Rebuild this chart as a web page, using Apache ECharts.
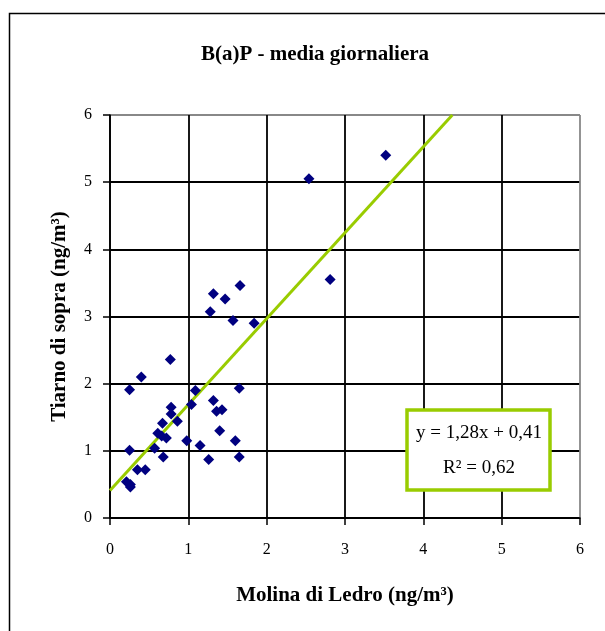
<!DOCTYPE html>
<html>
<head>
<meta charset="utf-8">
<script src="https://cdn.jsdelivr.net/npm/echarts@6/dist/echarts.min.js"></script>
<style>
  html, body { margin: 0; padding: 0; background: #fff; }
  #chart { width: 605px; height: 631px; }
</style>
</head>
<body>
<div id="chart"></div>
<script>
// punti misurati (x = Molina di Ledro, y = Tiarno di sopra)
var molina = [1.66, 1.32, 1.47, 1.28, 1.57, 1.84, 0.77, 2.54, 3.52, 2.81,
              0.40, 0.25, 1.65, 1.09, 0.78, 1.04, 1.32, 0.78, 1.36, 1.43,
              0.86, 0.67, 0.61, 0.72, 0.66, 1.40, 0.98, 0.57, 1.15, 1.60,
              0.25, 0.68, 1.26, 1.65, 0.35, 0.45, 0.21, 0.26, 0.26];
var tiarno = [3.46, 3.34, 3.26, 3.07, 2.94, 2.90, 2.36, 5.05, 5.40, 3.55,
              2.10, 1.91, 1.93, 1.90, 1.65, 1.69, 1.75, 1.55, 1.59, 1.61,
              1.44, 1.41, 1.26, 1.19, 1.22, 1.30, 1.15, 1.04, 1.08, 1.15,
              1.01, 0.91, 0.87, 0.91, 0.72, 0.72, 0.54, 0.50, 0.46];
// retta di tendenza (estremi)
var trendX = [0, 4.37];
var trendY = [0.41, 6];
var ticks = [0, 1, 2, 3, 4, 5, 6];

var points = molina.map(function (v, i) { return [v, tiarno[i]]; });
var trend = trendX.map(function (v, i) { return [v, trendY[i]]; });

var serif = '"Liberation Serif", "Times New Roman", serif';
var gridColors = ['#000', '#000', '#000', '#000', '#000', '#000', '#888'];

var myChart = echarts.init(document.getElementById('chart'));
var option = {
    backgroundColor: '#fff',
    animation: false,
    title: {
        text: 'B(a)P - media giornaliera',
        left: 310, top: 39, textAlign: 'center',
        textStyle: { fontFamily: serif, fontSize: 21, fontWeight: 'bold', color: '#000' }
    },
    grid: { left: 110, top: 115, width: 470, height: 403, containLabel: false },
    xAxis: {
        type: 'value', min: ticks[0], max: ticks[ticks.length - 1], interval: 1,
        name: 'Molina di Ledro (ng/m³)', nameLocation: 'middle', nameGap: 67,
        nameTextStyle: { fontFamily: serif, fontSize: 21, fontWeight: 'bold', color: '#000' },
        axisLine: { lineStyle: { color: '#000', width: 1.5 } },
        axisTick: { show: true, length: 7, lineStyle: { color: '#000', width: 1.5 } },
        axisLabel: { fontFamily: serif, fontSize: 16, color: '#000', margin: 24 },
        splitLine: { show: true, lineStyle: { color: gridColors, width: 1.8 } }
    },
    yAxis: {
        type: 'value', min: ticks[0], max: ticks[ticks.length - 1], interval: 1,
        name: 'Tiarno di sopra (ng/m³)', nameLocation: 'middle', nameGap: 40,
        nameTextStyle: { fontFamily: serif, fontSize: 21, fontWeight: 'bold', color: '#000' },
        axisLine: { lineStyle: { color: '#000', width: 1.5 } },
        axisTick: { show: true, length: 7, lineStyle: { color: '#000', width: 1.5 } },
        axisLabel: { fontFamily: serif, fontSize: 16, color: '#000', margin: 18 },
        splitLine: { show: true, lineStyle: { color: gridColors, width: 1.8 } }
    },
    graphic: [
        {
            type: 'rect', silent: true, z: -1,
            shape: { x: 9.5, y: 13.5, width: 640, height: 660 },
            style: { fill: 'none', stroke: '#000', lineWidth: 1.5 }
        },
        {
            type: 'rect', z: 10,
            shape: { x: 407, y: 410, width: 143, height: 80 },
            style: { fill: '#fff', stroke: '#99cc00', lineWidth: 3.5 }
        },
        {
            type: 'text', z: 11,
            x: 479, y: 433,
            style: { text: 'y = 1,28x + 0,41', fill: '#000', font: '19px ' + serif, align: 'center', verticalAlign: 'middle' }
        },
        {
            type: 'text', z: 11,
            x: 479, y: 468,
            style: { text: 'R² = 0,62', fill: '#000', font: '19px ' + serif, align: 'center', verticalAlign: 'middle' }
        }
    ],
    series: [
        {
            type: 'line', data: trend, symbol: 'none', z: 2,
            lineStyle: { color: '#99cc00', width: 3 }
        },
        {
            type: 'scatter', data: points, symbol: 'diamond', symbolSize: 11, z: 3,
            itemStyle: { color: '#000080', opacity: 1 }
        }
    ]
};
myChart.setOption(option);
</script>
</body>
</html>
